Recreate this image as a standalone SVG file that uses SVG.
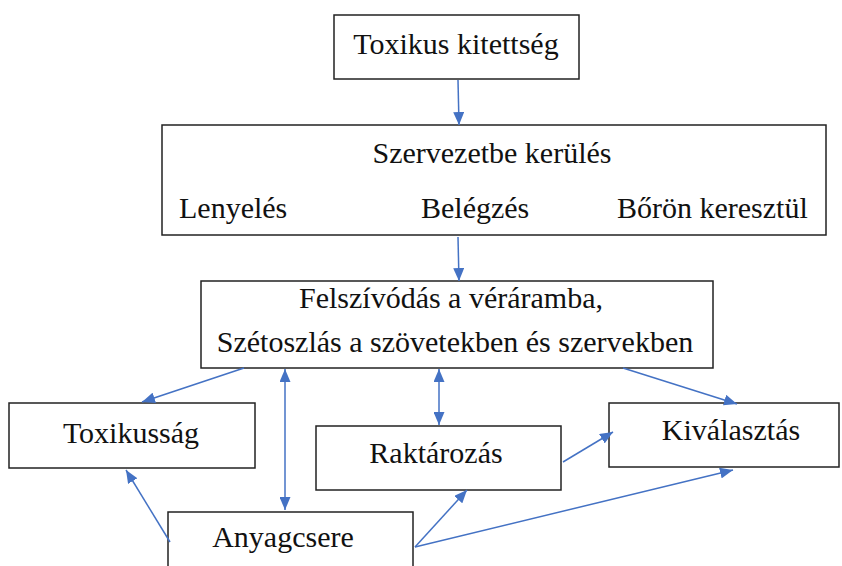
<svg xmlns="http://www.w3.org/2000/svg" width="842" height="566" viewBox="0 0 842 566">
<style>
.box{fill:#fff;stroke:#222;stroke-width:1.5}
.ln{stroke:#4472C4;stroke-width:1.5;fill:none}
</style>
<defs>
<marker id="ah" markerUnits="userSpaceOnUse" markerWidth="13" markerHeight="11" refX="13" refY="5.5" orient="auto-start-reverse"><path d="M0,0 L13,5.5 L0,11 z" fill="#4472C4"/></marker>
</defs>
<rect width="842" height="566" fill="#fff"/>
<g font-family="Liberation Serif, Tinos, Times New Roman, serif" font-size="30" fill="#111">
<g id="n1"><rect class="box" x="334" y="15" width="245" height="64"/><text text-anchor="middle" x="456" y="54">Toxikus kitettség</text></g>
<g id="n2"><rect class="box" x="162" y="125" width="664" height="110"/><text text-anchor="middle" x="492" y="163">Szervezetbe kerülés</text><text x="179" y="218">Lenyelés</text><text x="421" y="218">Belégzés</text><text x="617" y="218">Bőrön keresztül</text></g>
<g id="n3"><rect class="box" x="201" y="281" width="512" height="87"/><text text-anchor="middle" x="451" y="308">Felszívódás a véráramba,</text><text text-anchor="middle" x="455" y="352">Szétoszlás a szövetekben és szervekben</text></g>
<g id="n4"><rect class="box" x="9" y="403" width="246" height="65"/><text text-anchor="middle" x="131" y="443">Toxikusság</text></g>
<g id="n5"><rect class="box" x="316" y="426" width="245" height="64"/><text text-anchor="middle" x="436" y="463">Raktározás</text></g>
<g id="n6"><rect class="box" x="609" y="403" width="230" height="64"/><text text-anchor="middle" x="731" y="440">Kiválasztás</text></g>
<g id="n7"><rect class="box" x="168" y="512" width="245" height="70"/><text text-anchor="middle" x="283" y="547">Anyagcsere</text></g>
</g>
<g id="connectors">
<line class="ln" x1="458" y1="80" x2="459" y2="125" marker-end="url(#ah)"/>
<line class="ln" x1="458" y1="237" x2="459" y2="281" marker-end="url(#ah)"/>
<line class="ln" x1="244" y1="368" x2="142" y2="402" marker-end="url(#ah)"/>
<line class="ln" x1="285" y1="369" x2="285" y2="510" marker-start="url(#ah)" marker-end="url(#ah)"/>
<line class="ln" x1="170" y1="542" x2="126" y2="470" marker-end="url(#ah)"/>
<line class="ln" x1="439" y1="369" x2="439" y2="425" marker-start="url(#ah)" marker-end="url(#ah)"/>
<line class="ln" x1="623" y1="368" x2="737" y2="404" marker-end="url(#ah)"/>
<line class="ln" x1="563" y1="462" x2="613" y2="432" marker-end="url(#ah)"/>
<line class="ln" x1="415" y1="547" x2="467" y2="490" marker-end="url(#ah)"/>
<line class="ln" x1="415" y1="547" x2="733" y2="470" marker-end="url(#ah)"/>
</g>
</svg>
